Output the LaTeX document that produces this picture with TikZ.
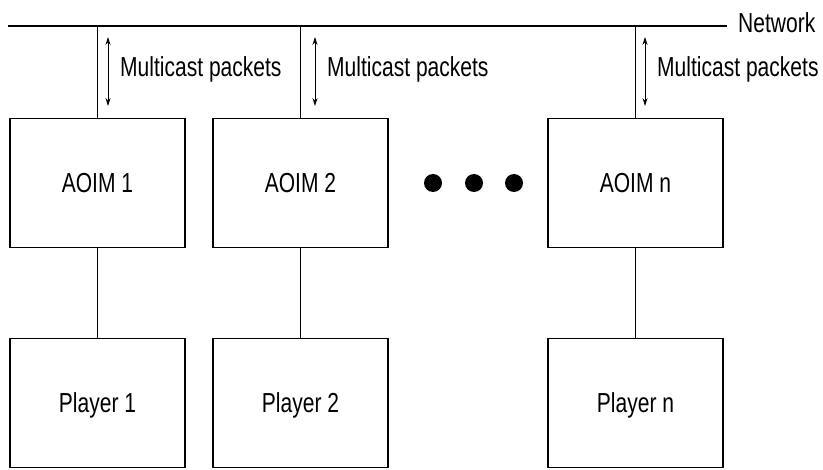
\documentclass[tikz,border=0pt]{standalone}
\usepackage{fontspec}
\setmainfont{Liberation Sans}
\newfontfamily\condfont[FakeStretch=0.765]{Liberation Sans}
\usetikzlibrary{arrows.meta}
\begin{document}
\begin{tikzpicture}[x=1pt,y=-1pt,
  txt/.style={font=\condfont\fontsize{27.5}{30}\selectfont},
  box/.style={txt,draw,line width=1.7pt,minimum width=175pt,minimum height=129pt,inner sep=0pt,text height=20pt,text depth=0pt},
  lbl/.style={txt,anchor=base west,inner sep=0pt},
  wire/.style={line width=1.7pt},
  dbl/.style={line width=0.7pt,{Stealth[length=8pt,width=5pt]}-{Stealth[length=8pt,width=5pt]}}]
\useasboundingbox (0,0) rectangle (823,470);
\coordinate (nl) at (8,26);
\coordinate (nr) at (727,26);
\draw[wire] (nl) -- (nr);
\node[lbl] (net) at (738,33) {Network};
\node[box] (a1) at (97.5,183) {AOIM 1};
\node[box] (a2) at (300.5,183) {AOIM 2};
\node[box] (an) at (635.5,183) {AOIM n};
\node[box] (p1) at (97.5,403) {Player 1};
\node[box] (p2) at (300.5,403) {Player 2};
\node[box] (pn) at (635.5,403) {Player n};
\foreach \n in {a1,a2,an} {
  \coordinate (t\n) at (\n.north |- nl);
  \draw[wire] (t\n) -- (\n.north);
}
\draw[wire] (a1) -- (p1);
\draw[wire] (a2) -- (p2);
\draw[wire] (an) -- (pn);
\foreach \x/\k in {108/1,315/2,645/3} {
  \coordinate (u\k) at (\x,37);
  \coordinate (d\k) at (\x,106);
  \draw[dbl] (u\k) -- (d\k);
  \node[lbl] (m\k) at (\x+12,77) {Multicast packets};
}
\foreach \x/\k in {433/1,474/2,514/3}
  \fill (\x,183) circle (9pt) coordinate (dot\k);
\end{tikzpicture}
\end{document}
